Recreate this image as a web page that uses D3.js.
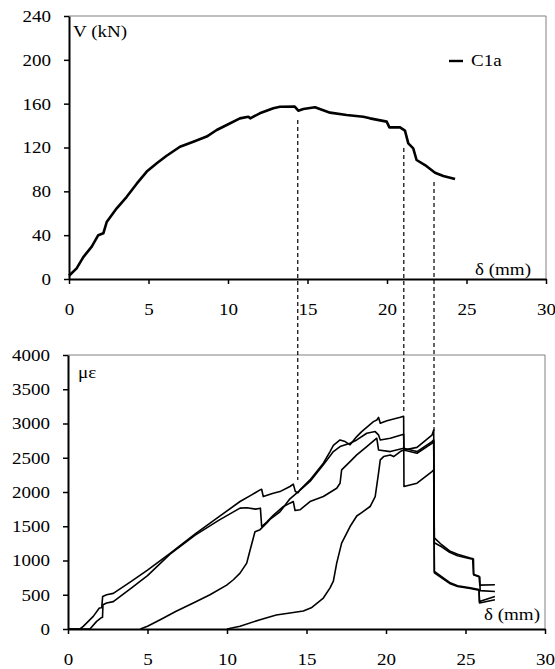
<!DOCTYPE html>
<html>
<head>
<meta charset="utf-8">
<script src="https://cdn.jsdelivr.net/npm/d3@7/dist/d3.min.js"></script>
<style>
body { margin: 0; background: #fff; }
</style>
</head>
<body>
<svg id="chart" width="555" height="669"></svg>
<script>
// delta (mm) ticks shared by both panels
const deltaTicks = [0, 5, 10, 15, 20, 25, 30];
const shearTicks = [0, 40, 80, 120, 160, 200, 240];
const strainTicks = [0, 500, 1000, 1500, 2000, 2500, 3000, 3500, 4000];

// top panel: V (kN) vs delta, specimen C1a
const c1aCurve = [
  [0, 3], [0.48, 9.7], [0.9, 20], [1.43, 29.5], [1.84, 40], [2.16, 41.7], [2.37, 52],
  [3.0, 64.5], [3.63, 75], [4.26, 87], [4.89, 98], [5.52, 105.6], [6.14, 112.5],
  [6.98, 120.7], [7.82, 125.3], [8.66, 130], [9.29, 136], [9.92, 140.5], [10.75, 146.6],
  [11.28, 148.1], [11.4, 146.6], [12.0, 151.2], [12.85, 155.8], [13.27, 157.2], [14.2, 157.3],
  [14.42, 153.6], [14.74, 155.1], [15.47, 156.7], [16.42, 151.8], [17.46, 149.7],
  [18.51, 148.1], [18.93, 146.6], [19.98, 143.6], [20.15, 138.4], [20.82, 138.4],
  [21.13, 135.4], [21.34, 123.8], [21.65, 119.2], [21.86, 108.6], [22.39, 104],
  [23.02, 97], [23.54, 94], [24.28, 91.2]
];

// bottom panel: strain gauges (micro-strain) vs delta
const gaugeA = [
  [0, 0], [0.75, 0], [0.96, 38], [1.59, 184], [1.97, 306], [2.12, 310], [2.18, 476],
  [2.43, 500], [2.85, 520], [4.0, 700], [5.0, 860], [6.4, 1100], [8.0, 1390], [9.5, 1640],
  [10.82, 1861], [11.55, 1958], [12.08, 2031], [12.18, 2040], [12.28, 1933], [12.91, 1983],
  [13.33, 2006], [13.96, 2080], [14.17, 2115], [14.3, 2006], [14.48, 1990], [14.59, 2031],
  [15.22, 2177], [16.06, 2420], [16.48, 2590], [16.69, 2680], [17.11, 2760], [17.43, 2736],
  [17.74, 2688], [18.16, 2809], [18.47, 2882], [19.21, 3027], [19.42, 3052], [19.53, 3090],
  [19.64, 3003], [20.06, 3040], [20.9, 3090], [21.11, 3105], [21.13, 2080], [21.95, 2128],
  [22.89, 2299], [23.0, 2323], [23.04, 840], [24.0, 680], [24.5, 630], [25.3, 600],
  [25.85, 575], [25.88, 400], [26.85, 476]
];
const gaugeB = [
  [0, 0], [1.38, 0], [1.8, 111], [2.1, 165], [2.17, 170], [2.2, 354], [2.43, 380],
  [2.85, 400], [4.0, 600], [5.0, 780], [6.4, 1090], [8.0, 1370], [9.5, 1590], [10.82, 1764],
  [11.24, 1770], [11.8, 1750], [12.1, 1764], [12.18, 1496], [12.5, 1560], [12.91, 1660],
  [13.5, 1780], [13.96, 1837], [14.17, 1860], [14.28, 1730], [14.59, 1740], [15.22, 1861],
  [16.06, 1934], [16.9, 2055], [17.11, 2128], [17.21, 2323], [17.74, 2444], [18.16, 2541],
  [18.79, 2663], [19.42, 2785], [19.53, 2614], [20.27, 2590], [21.11, 2639], [21.95, 2590],
  [22.89, 2736], [23.0, 2760], [23.04, 1260], [23.5, 1200], [24.0, 1120], [24.5, 1070],
  [25.3, 1025], [25.5, 1020], [25.52, 790], [25.9, 760], [25.92, 560], [26.85, 548]
];
const gaugeC = [
  [4.55, 0], [5.0, 40], [5.8, 136], [6.8, 260], [7.88, 379], [8.93, 500], [9.98, 640],
  [10.4, 719], [10.82, 816], [11.24, 962], [11.45, 1150], [11.6, 1280], [11.76, 1420],
  [12.08, 1450], [12.49, 1545], [12.7, 1600], [13.33, 1710], [13.96, 1900], [14.49, 2006],
  [15.22, 2153], [16.06, 2396], [16.69, 2590], [17.11, 2663], [17.74, 2712], [18.16, 2760],
  [18.79, 2858], [19.32, 2882], [19.53, 2833], [19.64, 2760], [20.27, 2785], [21.11, 2843],
  [21.13, 2614], [21.95, 2651], [22.89, 2830], [23.0, 2906], [23.04, 1330], [23.5, 1230],
  [24.0, 1140], [24.5, 1090], [25.3, 1035], [25.45, 1030], [25.5, 800], [25.85, 770],
  [25.9, 640], [26.85, 646]
];
const gaugeD = [
  [10.0, 0], [10.82, 40], [12.08, 136], [13.1, 205], [14.17, 240], [14.8, 262], [15.3, 310],
  [16.06, 452], [16.48, 600], [16.69, 700], [16.9, 962], [17.21, 1254], [17.74, 1496],
  [18.16, 1650], [18.47, 1700], [19.0, 1788], [19.32, 1934], [19.53, 2274], [19.64, 2469],
  [19.85, 2517], [20.27, 2541], [20.48, 2517], [20.9, 2590], [21.11, 2614], [21.95, 2566],
  [22.89, 2712], [23.0, 2740], [23.04, 820], [24.0, 665], [24.5, 620], [25.3, 590],
  [25.85, 565], [25.88, 380], [26.85, 427]
];

// dashed guides linking the two panels
const guideDelta = [14.45, 21.12, 23.02];
const guideShear = [145, 119.5, 88.5];
const guideStrain = [2177, 3168, 2877];

const sx = 1.12; // glyphs in the picture are a bit wider than Times
const serif = "'Liberation Serif', 'Times New Roman', Times, serif";

let svg = d3.select("#chart");

let xTop = d3.scaleLinear().domain([0, 30]).range([69, 546]),
    yTop = d3.scaleLinear().domain([0, 240]).range([279, 16]),
    xBot = d3.scaleLinear().domain([0, 30]).range([68, 545]),
    yBot = d3.scaleLinear().domain([0, 4000]).range([629, 355]);

function frame(x, y) {
    svg.append("path")
        .attr("d", "M" + x(0) + "," + y.range()[1] + "H" + x(30) + "V" + y.range()[0])
        .attr("fill", "none")
        .attr("stroke", "#808080")
        .attr("stroke-width", 1);
}

function styleText(sel) {
    sel.style("font-family", serif)
        .style("font-size", "17px")
        .attr("fill", "#000");
}

function axes(x, y, yTicks) {
    let gx = svg.append("g")
        .attr("transform", "translate(0," + y.range()[0] + ")")
        .call(d3.axisBottom(x).tickValues(deltaTicks).tickFormat(d3.format("d"))
            .tickSize(5).tickSizeOuter(0).tickPadding(19));
    gx.selectAll("text")
        .attr("dy", "0.71em")
        .attr("transform", "scale(" + sx + ",1)");

    let gy = svg.append("g")
        .attr("transform", "translate(" + x.range()[0] + ",0)")
        .call(d3.axisLeft(y).tickValues(yTicks).tickFormat(d3.format("d"))
            .tickSize(5).tickSizeOuter(0).tickPadding(13));
    gy.selectAll("text")
        .attr("x", -18 / sx)
        .attr("transform", "scale(" + sx + ",1)");

    [gx, gy].forEach(function (g) {
        g.attr("font-family", null).attr("font-size", null);
        g.select(".domain").attr("stroke", "#000").attr("stroke-width", 2);
        g.selectAll(".tick line").attr("stroke", "#000").attr("stroke-width", 1.5);
        styleText(g.selectAll("text"));
    });
}

function label(txt, x, y, anchor) {
    svg.append("text")
        .attr("transform", "translate(" + x + "," + y + ") scale(" + sx + ",1)")
        .attr("text-anchor", anchor || "start")
        .text(txt)
        .call(styleText);
}

frame(xTop, yTop);
frame(xBot, yBot);

// guides first so the curves sit on top
guideDelta.forEach(function (d, i) {
    svg.append("line")
        .attr("x1", xBot(d)).attr("x2", xBot(d))
        .attr("y1", yTop(guideShear[i])).attr("y2", yBot(guideStrain[i]))
        .attr("stroke", "#000")
        .attr("stroke-width", 1.2)
        .attr("stroke-dasharray", "4,3");
});

let lineTop = d3.line().x(d => xTop(d[0])).y(d => yTop(d[1]));
let lineBot = d3.line().x(d => xBot(d[0])).y(d => yBot(d[1]));

svg.append("path")
    .datum(c1aCurve)
    .attr("d", lineTop)
    .attr("fill", "none")
    .attr("stroke", "#000")
    .attr("stroke-width", 2.6)
    .attr("stroke-linejoin", "round");

svg.selectAll("path.gauge")
    .data([gaugeA, gaugeB, gaugeC, gaugeD])
    .enter()
    .append("path")
    .attr("class", "gauge")
    .attr("d", lineBot)
    .attr("fill", "none")
    .attr("stroke", "#000")
    .attr("stroke-width", 1.6)
    .attr("stroke-linejoin", "round");

axes(xTop, yTop, shearTicks);
axes(xBot, yBot, strainTicks);

// legend
svg.append("line")
    .attr("x1", 449).attr("x2", 463)
    .attr("y1", 61).attr("y2", 61)
    .attr("stroke", "#000").attr("stroke-width", 2.4);
label("C1a", 471, 66);

label("V (kN)", 73, 37);
label("\u03b4 (mm)", 531, 275, "end");
label("\u03bc\u03b5", 78, 378);
label("\u03b4 (mm)", 540, 620, "end");
</script>
</body>
</html>
